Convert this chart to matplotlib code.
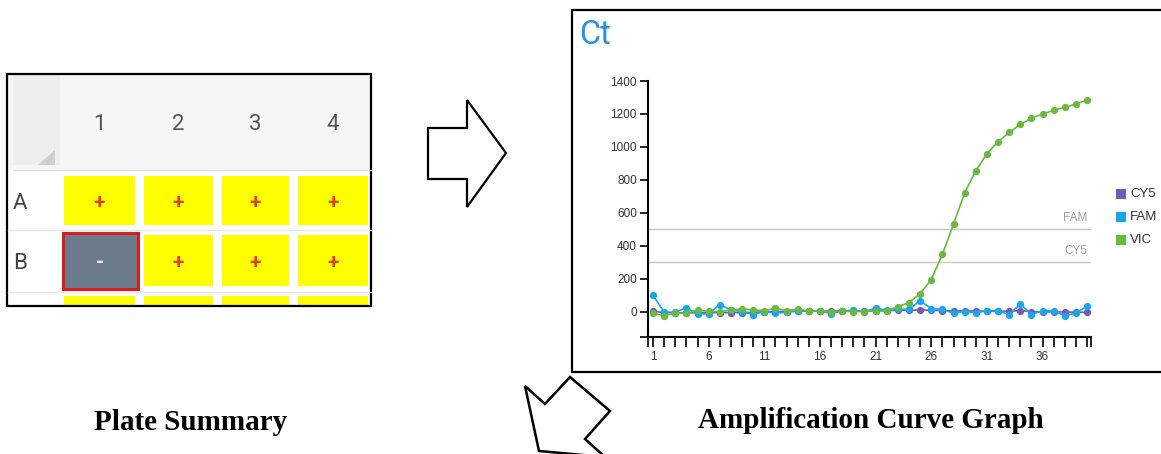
import matplotlib
matplotlib.use("Agg")
import matplotlib.pyplot as plt
import numpy as np
from matplotlib.patches import Polygon, Rectangle

# ---- data ----
cycles = list(range(1, 41))
series_names = ["CY5", "FAM", "VIC"]
series_colors = ["#7559b6", "#1aa6ea", "#6ab83f"]

cy5 = [4, -4, -4, -6, -4, -4, -4, -4, -4, -2, 0, 2, 2, 4, 4, 4, 6, 6, 6, 6,
       8, 8, 10, 10, 12, 10, 8, 6, 6, 6, 4, 4, 4, 8, 2, 0, 0, 0, -2, -2]
fam = [102, -2, -2, 26, -14, -10, 44, 12, 2, -16, 2, -8, -2, 6, 6, 6, -10, 4, 12, 2,
       22, 12, 16, 16, 68, 20, 16, -8, 2, -4, 6, 8, -16, 48, -16, 8, 6, -22, -8, 36]
vic = [-8, -22, -8, -8, 12, 4, 2, 12, 18, 12, 8, 22, 8, 16, 6, 6, 0, 4, 2, 2,
       6, 6, 32, 57, 111, 196, 350, 532, 722, 856, 959, 1032, 1088, 1137, 1174,
       1200, 1222, 1240, 1260, 1285]

thresholds = {"FAM": 500, "CY5": 300}
y_ticks = [0, 200, 400, 600, 800, 1000, 1200, 1400]
x_labels = [1, 6, 11, 16, 21, 26, 31, 36]

plate_cols = ["1", "2", "3", "4"]
plate_rows = ["A", "B", "C"]
plate_calls = [["+", "+", "+", "+"],
               ["-", "+", "+", "+"],
               ["+", "+", "+", "+"]]

W, H = 1161, 454
fig = plt.figure(figsize=(W / 100, H / 100), dpi=100)

# overlay in pixel coordinates for the diagram parts
ov = fig.add_axes([0, 0, 1, 1], zorder=0)
ov.set_xlim(0, W)
ov.set_ylim(H, 0)
ov.axis("off")

# ---- plate summary panel ----
ov.add_patch(Rectangle((8, 75), 363, 95, facecolor="#f6f6f6", edgecolor="none"))
ov.add_patch(Rectangle((13, 75), 47, 90, facecolor="#eeeeee", edgecolor="none"))
ov.add_patch(Polygon([(55, 150), (55, 165), (38, 165)], closed=True,
                     facecolor="#cfcfcf", edgecolor="none"))
ov.plot([13, 371], [170, 170], color="#dddddd", lw=1)
ov.plot([8, 371], [230, 230], color="#e6e6e6", lw=1)
ov.plot([8, 371], [292, 292], color="#e6e6e6", lw=1)

col_x = [(64, 135), (144, 213), (222, 289), (298, 368)]
row_y = [(176, 225), (235, 286), (296, 330)]
for j, lab in enumerate(plate_cols):
    ov.text(sum(col_x[j]) / 2, 124, lab, ha="center", va="center",
            fontsize=16, color="#555555", family="Roboto")
for i, lab in enumerate(plate_rows):
    y0, y1 = row_y[i]
    if i < 2:
        ov.text(20, (y0 + y1) / 2 + 3, lab, ha="center", va="center",
                fontsize=16, color="#444444", family="Roboto")
    for j in range(len(plate_cols)):
        x0, x1 = col_x[j]
        call = plate_calls[i][j]
        neg = call == "-"
        if neg:
            ov.add_patch(Rectangle((63, 233), 75, 56, facecolor="#6c7b8b",
                                   edgecolor="#d41f1f", lw=2.2))
        else:
            ov.add_patch(Rectangle((x0, y0), x1 - x0, y1 - y0,
                                   facecolor="#ffff00", edgecolor="none"))
        if i < 2:
            ov.text((x0 + x1) / 2, (y0 + y1) / 2 + 2, call, ha="center",
                    va="center", fontsize=15, fontweight="bold",
                    color="#e8e8e8" if neg else "#e0401f", family="Roboto")

# clip row C to the panel box
ov.add_patch(Rectangle((0, 306), 380, 40, facecolor="white", edgecolor="none"))
ov.add_patch(Rectangle((7, 74), 364, 232, facecolor="none", edgecolor="black", lw=1.6))

# ---- chart frame ----
ov.add_patch(Rectangle((572, 10), 620, 362, facecolor="white", edgecolor="black",
                       lw=1.6, clip_on=False))
ov.text(579, 35, "Ct", ha="left", va="center", fontsize=23.5, color="#2b8fe6",
        family="Roboto")

# legend (kept just inside the right edge)
for k, (name, col) in enumerate(zip(series_names, series_colors)):
    yc = 194 + 23 * k
    ov.add_patch(Rectangle((1116, yc - 5), 10, 10, facecolor=col, edgecolor="none"))
    ov.text(1130, yc, name, ha="left", va="center", fontsize=9.5,
            color="#333333", family="Liberation Sans")

# ---- arrows ----
right_arrow = [(428, 128), (467, 128), (467, 100), (506, 153),
               (467, 207), (467, 179), (428, 179)]
ov.add_patch(Polygon(right_arrow, closed=True, facecolor="white",
                     edgecolor="black", lw=1.6))
down_arrow = [(570, 377), (610, 411), (585, 439), (605, 457),
              (539, 451), (525, 386), (545, 404)]
ov.add_patch(Polygon(down_arrow, closed=True, facecolor="white",
                     edgecolor="black", lw=1.8, joinstyle="miter"))

# ---- captions ----
ov.text(191, 423, "Plate Summary", ha="center", va="center", fontsize=21,
        fontweight="bold", family="Liberation Serif")
ov.text(871, 421, "Amplification Curve Graph", ha="center", va="center",
        fontsize=21, fontweight="bold", family="Liberation Serif")

# ---- amplification chart ----
ax = fig.add_axes([648 / W, 1 - 337 / H, (1091 - 648) / W, (337 - 81) / H], zorder=1)
ax.set_facecolor("none")
ymin, ymax = -152, 1400
xmin, xmax = 0.55, 40.35
ax.set_xlim(xmin, xmax)
ax.set_ylim(ymin, ymax)

for name, val in thresholds.items():
    ax.axhline(val, color="#c6c6c6", lw=1, zorder=1)
    ax.annotate(name, (xmax - 0.3, val), xytext=(0, 4), textcoords="offset points",
                ha="right", va="bottom", fontsize=8.5, color="#a0a0a0",
                family="Liberation Sans")

for vals, col in zip([cy5, fam, vic], series_colors):
    ax.plot(cycles, vals, color=col, lw=1.2, marker="o", markersize=5.2,
            markeredgewidth=0, zorder=3, clip_on=False)

for s in ["top", "right"]:
    ax.spines[s].set_visible(False)
for s in ["left", "bottom"]:
    ax.spines[s].set_linewidth(1.5)
    ax.spines[s].set_color("black")

ax.set_xticks(cycles)
ax.set_xticklabels([str(c) if c in x_labels else "" for c in cycles])
ax.set_xticks([xmin, xmax], minor=True)
ax.set_yticks(y_ticks)
ax.set_yticks([ymin, ymax], minor=True)
ax.tick_params(axis="x", which="both", direction="out", length=7, width=1.2,
               labelsize=8.5, labelcolor="#333333", pad=3)
ax.tick_params(axis="y", which="both", direction="out", length=6, width=1.2,
               labelsize=8.5, labelcolor="#333333", pad=2)
for lab in ax.get_xticklabels() + ax.get_yticklabels():
    lab.set_family("Liberation Sans")

fig.savefig("out.png", dpi=100)
